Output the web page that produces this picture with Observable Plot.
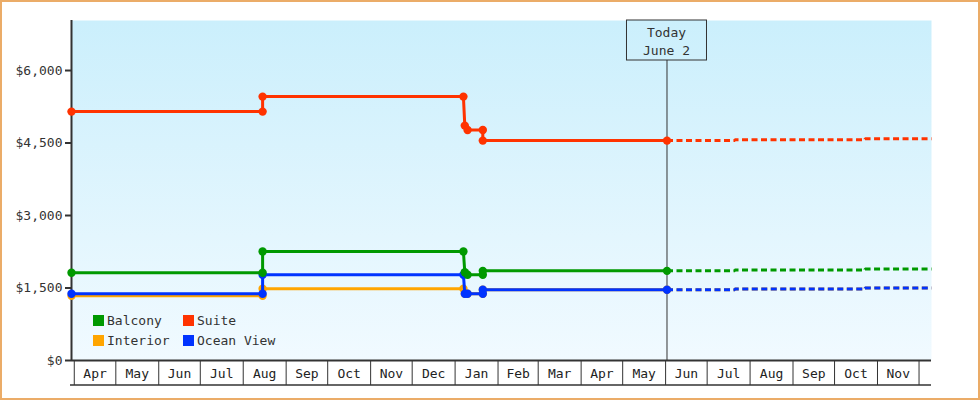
<!DOCTYPE html>
<html><head><meta charset="utf-8">
<script src="https://cdn.jsdelivr.net/npm/d3@7"></script>
<script src="https://cdn.jsdelivr.net/npm/@observablehq/plot@0.6"></script>
<style>
html,body{margin:0;padding:0;background:#fff;width:980px;height:400px;overflow:hidden}
#wrap{position:relative;width:980px;height:400px}
#border{position:absolute;left:0;top:0;width:980px;height:400px;box-sizing:border-box;border:2px solid #ebac68;pointer-events:none}
svg text{font-family:"DejaVu Sans Mono",monospace}
</style></head><body>
<div id="wrap"><div id="chart"></div><div id="border"></div></div>
<script>
// ---- data ----
const cabins = ["Balcony", "Interior", "Suite", "Ocean View"];          // legend order
const cabinColors = ["#009900", "#ffa500", "#ff3300", "#0033ff"];
const drawOrder = ["Interior", "Ocean View", "Balcony", "Suite"];

const historyDates = ["2023-03-30","2023-08-15","2023-08-15","2024-01-07","2024-01-08","2024-01-10","2024-01-21","2024-01-21","2024-06-02"];
const balconyPrices  = [1815, 1815, 2255, 2255, 1825, 1775, 1775, 1855, 1855];
const interiorPrices = [1340, 1340, 1485, 1485, 1380, 1380, 1380, 1465, 1465];
const suitePrices    = [5150, 5150, 5460, 5460, 4860, 4770, 4770, 4550, 4550];
const oceanPrices    = [1380, 1380, 1775, 1775, 1380, 1380, 1380, 1465, 1465];

const forecastDates = ["2024-06-02","2024-07-21","2024-07-21","2024-10-23","2024-10-23","2024-12-10"];
const balconyForecast  = [1855, 1855, 1875, 1875, 1895, 1895];
const interiorForecast = [1465, 1465, 1480, 1480, 1500, 1500];
const suiteForecast    = [4550, 4550, 4570, 4570, 4590, 4590];
const oceanForecast    = [1465, 1465, 1480, 1480, 1500, 1500];

const todayDate = "2024-06-02";
const todayLabel = ["Today", "June 2"];
const xDomainDates = ["2023-03-30", "2024-12-10"];
const yDomain = [0, 7035];
const yTicks = [0, 1500, 3000, 4500, 6000];
const monthStarts = ["2023-04-01","2023-05-01","2023-06-01","2023-07-01","2023-08-01","2023-09-01","2023-10-01","2023-11-01","2023-12-01","2024-01-01","2024-02-01","2024-03-01","2024-04-01","2024-05-01","2024-06-01","2024-07-01","2024-08-01","2024-09-01","2024-10-01","2024-11-01","2024-12-01"];
const monthLabels = ["Apr","May","Jun","Jul","Aug","Sep","Oct","Nov","Dec","Jan","Feb","Mar","Apr","May","Jun","Jul","Aug","Sep","Oct","Nov"];

// ---- build ----
const parse = d3.utcParse("%Y-%m-%d");
const histories = {"Balcony": balconyPrices, "Interior": interiorPrices, "Suite": suitePrices, "Ocean View": oceanPrices};
const forecasts = {"Balcony": balconyForecast, "Interior": interiorForecast, "Suite": suiteForecast, "Ocean View": oceanForecast};
const colorOf = c => cabinColors[cabins.indexOf(c)];
const rowsOf = (dates, vals, c) => dates.map((d, i) => ({date: parse(d), price: vals[i], cabin: c}));

const starts = monthStarts.map(parse);
const mids = starts.slice(0, -1).map((d, i) => new Date((+d + +starts[i + 1]) / 2));
const today = parse(todayDate);

const marks = [
  Plot.frame({fill: "url(#bg)", stroke: null}),
  Plot.ruleX([today], {stroke: "#333", strokeWidth: 1}),
  Plot.axisY({ticks: yTicks, tickFormat: d => "$" + d3.format(",")(d), tickSize: 6, tickPadding: 3, strokeWidth: 2, stroke: "#333", fill: "#333", label: null}),
  Plot.axisX({ticks: starts, tickSize: 25, tickFormat: () => "", stroke: "#333", strokeWidth: 1, label: null}),
  Plot.axisX({ticks: mids, tickSize: 0, tickPadding: 8, tickFormat: (d, i) => monthLabels[i], fill: "#222", label: null}),
  Plot.ruleY([0], {stroke: "#333", strokeWidth: 2}),
  Plot.ruleX([parse(xDomainDates[0])], {stroke: "#333", strokeWidth: 2}),
  ...drawOrder.flatMap(c => [
    Plot.line(rowsOf(forecastDates, forecasts[c], c), {x: "date", y: "price", stroke: colorOf(c), strokeWidth: 3, strokeDasharray: "6,3.5", strokeLinecap: "butt", strokeLinejoin: "miter"}),
    Plot.line(rowsOf(historyDates, histories[c], c), {x: "date", y: "price", stroke: colorOf(c), strokeWidth: 3, strokeLinejoin: "miter", strokeLinecap: "butt"}),
    Plot.dot(rowsOf(historyDates, histories[c], c), {x: "date", y: "price", r: 4.2, fill: colorOf(c), stroke: null})
  ])
];

const chart = Plot.plot({
  width: 980, height: 400,
  marginLeft: 71, marginRight: 49, marginTop: 20, marginBottom: 40,
  x: {type: "utc", domain: xDomainDates.map(parse)},
  y: {domain: yDomain},
  style: {fontFamily: "DejaVu Sans Mono", fontSize: "13px", color: "#333", background: "transparent", overflow: "visible"},
  marks
});
document.getElementById("chart").appendChild(chart);

// ---- decorations using the chart's scales ----
const xs = chart.scale("x"), ys = chart.scale("y");
const frameTop = ys.apply(yDomain[1]), frameBottom = ys.apply(0);
const [frameLeft, frameRight] = xs.range;
const svg = d3.select(chart);
const defs = svg.insert("defs", ":first-child");
const grad = defs.append("linearGradient").attr("id", "bg").attr("gradientUnits", "userSpaceOnUse")
  .attr("x1", 0).attr("x2", 0).attr("y1", frameTop).attr("y2", frameBottom);
grad.append("stop").attr("offset", "0%").attr("stop-color", "#cbeffc");
grad.append("stop").attr("offset", "100%").attr("stop-color", "#f1faff");

// bottom line of the month band
svg.append("line").attr("x1", frameLeft - 1).attr("x2", frameRight).attr("y1", frameBottom + 25).attr("y2", frameBottom + 25)
  .attr("stroke", "#333").attr("stroke-width", 1.5);

// Today box
const tx = xs.apply(today);
const box = svg.append("g");
box.append("rect").attr("x", tx - 40).attr("y", frameTop).attr("width", 80).attr("height", 40)
  .attr("fill", "url(#bg)").attr("stroke", "#333").attr("stroke-width", 1);
todayLabel.forEach((t, i) => box.append("text").attr("x", tx).attr("y", frameTop + 16.5 + i * 18.5)
  .attr("text-anchor", "middle").attr("fill", "#333").attr("font-size", 13).text(t));

// legend
const lg = svg.append("g").attr("text-anchor", "start");
cabins.forEach((c, i) => {
  const col = Math.floor(i / 2), row = i % 2;
  const lx = frameLeft + 22 + col * 90, ly = frameBottom - 45 + row * 20;
  lg.append("rect").attr("x", lx).attr("y", ly).attr("width", 11).attr("height", 11).attr("fill", colorOf(c));
  lg.append("text").attr("x", lx + 14).attr("y", ly + 10).attr("text-anchor", "start").attr("fill", "#333").attr("font-size", 13).text(c);
});
</script>
</body></html>
